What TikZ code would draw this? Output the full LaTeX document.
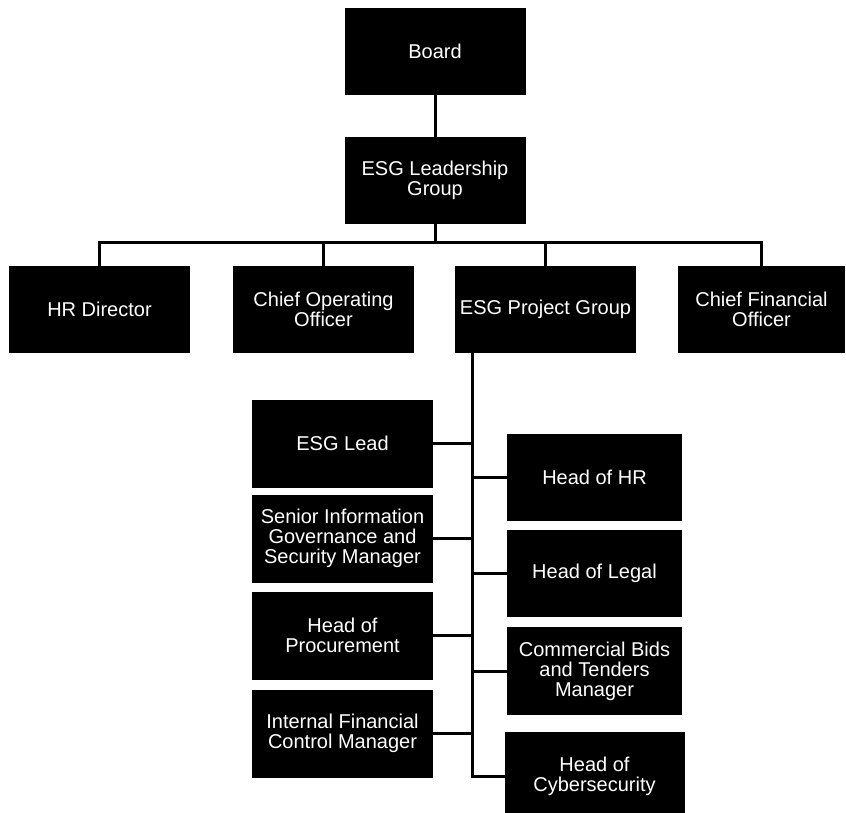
\documentclass[tikz,border=0pt]{standalone}
\usepackage{fontspec}
\setmainfont{Liberation Sans}
\usetikzlibrary{positioning}

\begin{document}
\begin{tikzpicture}[
    x=1pt, y=-1pt,
    line width=3pt,
    font=\fontsize{20}{20}\selectfont,
    cargo/.style={fill=black, text=white, rectangle, minimum width=181pt, minimum height=87pt, align=center, inner sep=2pt, outer sep=0pt},
    cargod/.style={cargo, minimum width=175pt}
]
    \useasboundingbox (0,0) rectangle (846,813);

    \node[cargo] (conselho) at (435,51.5) {Board};
    \node[cargo, below=42pt of conselho] (lideranca) {ESG Leadership\\Group};

    \node[cargo] (rh) at (99.5,309.5) {HR Director};
    \node[cargo, right=43pt of rh] (operacoes) {Chief Operating\\Officer};
    \node[cargo, right=41pt of operacoes] (projeto) {ESG Project Group};
    \node[cargo, minimum width=167pt, right=42pt of projeto] (financeiro) {Chief Financial\\Officer};

    % coluna da esquerda
    \node[cargo, minimum height=88pt] (lider) at (342.5,443.5) {ESG Lead};
    \node[cargo, minimum height=88pt, below=7pt of lider] (seguranca) {Senior Information\\Governance and\\Security Manager};
    \node[cargo, minimum height=88pt, below=9pt of seguranca] (compras) {Head of\\Procurement};
    \node[cargo, minimum height=88pt, below=10pt of compras] (controle) {Internal Financial\\Control Manager};

    % coluna da direita
    \node[cargod] (chefe_rh) at (594.5,477.5) {Head of HR};
    \node[cargod, below=9pt of chefe_rh] (juridico) {Head of Legal};
    \node[cargod, minimum height=88pt, below=10pt of juridico] (comercial) {Commercial Bids\\and Tenders\\Manager};
    \node[cargod, minimum width=180pt, minimum height=88pt, below=17pt of comercial] (ciber) {Head of\\Cybersecurity};

    \draw (conselho) -- (lideranca);
    \draw (lideranca.south) -- ++(0,19) coordinate (barra);
    \draw (rh.north) |- (barra) -| (financeiro.north);
    \draw (operacoes.north) -- (operacoes.north |- barra);
    \draw (projeto.north) -- (projeto.north |- barra);

    \draw ([xshift=17pt]projeto.south west) coordinate (tronco) |- (ciber.west);
    \draw (lider.east) -- (tronco |- lider.east);
    \draw (seguranca.east) -- (tronco |- seguranca.east);
    \draw (compras.east) -- (tronco |- compras.east);
    \draw (controle.east) -- (tronco |- controle.east);
    \draw (tronco |- chefe_rh.west) -- (chefe_rh.west);
    \draw (tronco |- juridico.west) -- (juridico.west);
    \draw (tronco |- comercial.west) -- (comercial.west);
\end{tikzpicture}
\end{document}
